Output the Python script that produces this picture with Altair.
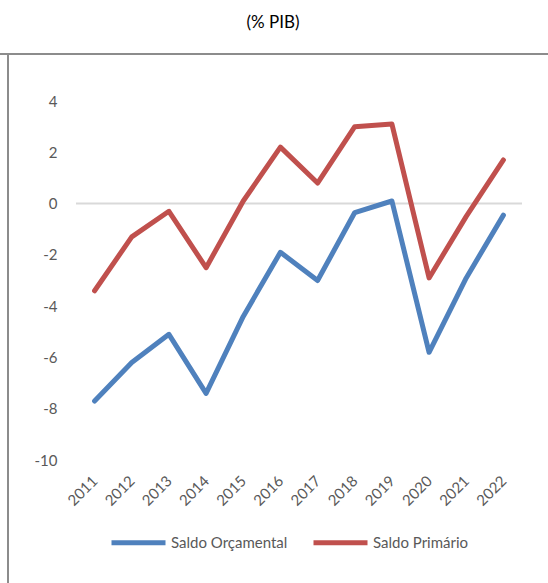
import altair as alt
import pandas as pd

years = ["2011", "2012", "2013", "2014", "2015", "2016", "2017", "2018", "2019", "2020", "2021", "2022"]
saldo_orcamental = [-7.7, -6.2, -5.1, -7.4, -4.4, -1.9, -3.0, -0.35, 0.1, -5.8, -2.9, -0.45]
saldo_primario = [-3.4, -1.3, -0.3, -2.5, 0.1, 2.2, 0.8, 3.0, 3.1, -2.9, -0.5, 1.7]
series_names = ["Saldo Orçamental", "Saldo Primário"]
series_colors = ["#4F81BD", "#C0504D"]
y_ticks = [4, 2, 0, -2, -4, -6, -8, -10]

rows = []
for y, v in zip(years, saldo_orcamental):
    rows.append({"ano": y, "valor": v, "serie": series_names[0]})
for y, v in zip(years, saldo_primario):
    rows.append({"ano": y, "valor": v, "serie": series_names[1]})
df = pd.DataFrame(rows)

FONT = "Lato"
FS = 15

base = alt.Chart(df)

zero = alt.Chart(pd.DataFrame({"z": [0]})).mark_rule(color="#D9D9D9", strokeWidth=2).encode(
    y=alt.Y("z:Q", scale=alt.Scale(domain=[-10, 4], nice=False))
)

lines = base.mark_line(strokeWidth=5, strokeCap="round", strokeJoin="round").encode(
    x=alt.X(
        "ano:N",
        sort=years,
        scale=alt.Scale(type="point", padding=0.5),
        axis=alt.Axis(
            title=None, domain=False, ticks=False, grid=False,
            labelAngle=-45, labelAlign="right", labelBaseline="middle",
            labelPadding=18, labelFont=FONT, labelFontSize=FS, labelColor="#595959",
        ),
    ),
    y=alt.Y(
        "valor:Q",
        scale=alt.Scale(domain=[-10, 4], nice=False, zero=False),
        axis=alt.Axis(
            title=None, domain=False, ticks=False, grid=False, values=y_ticks,
            labelExpr="toString(datum.value)",
            labelPadding=19, labelFont=FONT, labelFontSize=FS, labelColor="#595959",
        ),
    ),
    color=alt.Color(
        "serie:N",
        scale=alt.Scale(domain=series_names, range=series_colors),
        legend=alt.Legend(
            title=None, orient="none", direction="horizontal",
            legendX=33, legendY=412,
            symbolType="stroke", symbolSize=2916, symbolStrokeWidth=5,
            labelFont=FONT, labelFontSize=FS, labelColor="#595959",
            labelOffset=3, columnPadding=15, padding=0,
        ),
    ),
)

frame_h = alt.Chart(pd.DataFrame({"a": [0]})).mark_rule(color="#8C8C8C", strokeWidth=2).encode(
    x=alt.value(-76), x2=alt.value(472), y=alt.value(-47)
)
frame_v = alt.Chart(pd.DataFrame({"a": [0]})).mark_rule(color="#8C8C8C", strokeWidth=2).encode(
    x=alt.value(-68), y=alt.value(-47), y2=alt.value(482)
)

chart = alt.layer(frame_h, frame_v, zero, lines).properties(
    width=446,
    height=359,
    padding={"left": 76, "top": 101, "right": 26, "bottom": 123},
    autosize=alt.AutoSizeParams(type="none"),
    title=alt.TitleParams(
        "(% PIB)", font=FONT, fontSize=17, fontWeight=400, color="#000000",
        anchor="middle", frame="group", dx=-26, offset=21,
    ),
).configure(background="white").configure_view(stroke=None).configure_title(fontWeight=400)

chart.save("out.html", embed_options={"renderer": "svg", "actions": False})
